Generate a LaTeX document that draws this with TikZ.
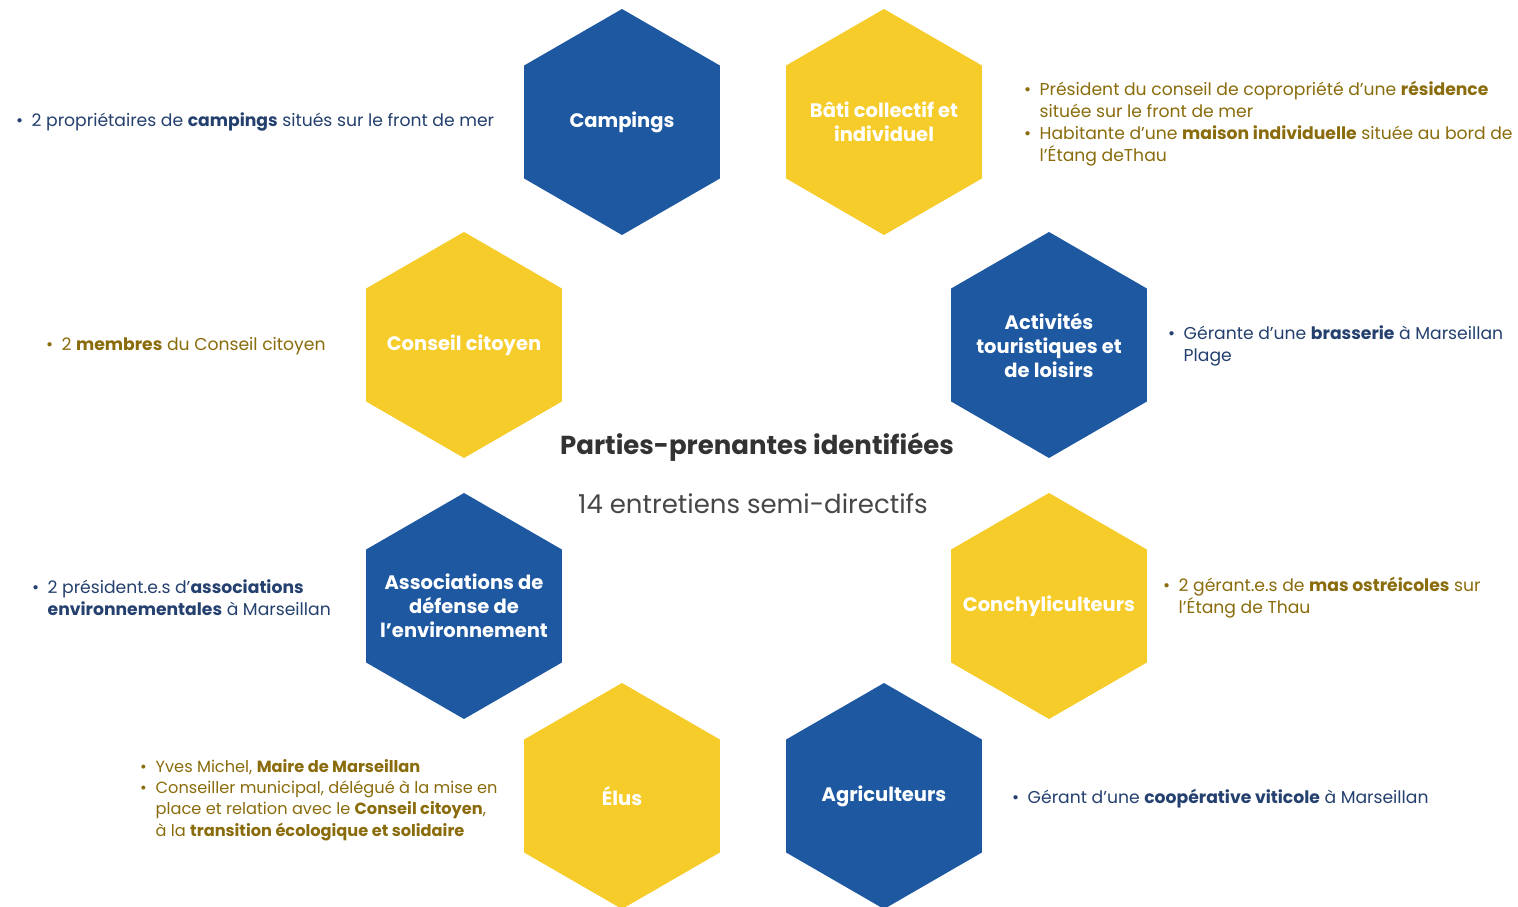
\documentclass[tikz,border=0pt]{standalone}
\usepackage{fontspec}
\setmainfont{Poppins}
\usetikzlibrary{shapes.geometric}
\definecolor{hexblue}{HTML}{1D58A1}
\definecolor{hexyellow}{HTML}{F6CC2B}
\definecolor{descblue}{HTML}{24406E}
\definecolor{descgold}{HTML}{8A6C0C}
\definecolor{titlegray}{HTML}{333333}
\newcommand{\bu}{\makebox[15.5pt][l]{\textbullet}}
\newcommand{\ind}{\hspace*{15.5pt}}
\begin{document}
\begin{tikzpicture}[x=1pt,y=-1pt,
  hex/.style={regular polygon, regular polygon sides=6, shape border rotate=30,
    minimum size=226pt, inner sep=0pt, draw=none},
  hexb/.style={hex, fill=hexblue},
  hexy/.style={hex, fill=hexyellow},
  hexlabel/.style={text=white, align=center, inner sep=0pt,
    font=\fontsize{19.5}{24}\selectfont\bfseries},
  desc/.style={anchor=west, inner sep=0pt, align=left, font=\fontsize{17.2}{22}\selectfont},
  descb/.style={desc, text=descblue},
  descy/.style={desc, text=descgold}]
\useasboundingbox (0,0) rectangle (1518,907);
\fill[white] (0,0) rectangle (1518,907);

\node[hexb] (camp) at (622,122) {};
\node[hexy] (bati) at (884,122) {};
\node[hexy] (cons) at (464,345) {};
\node[hexb] (acti) at (1049,345) {};
\node[hexb] (asso) at (464,606) {};
\node[hexy] (conc) at (1049,606) {};
\node[hexy] (elus) at (622,796) {};
\node[hexb] (agri) at (884,796) {};

\node[hexlabel] (lcamp) at (camp) {Campings};
\node[hexlabel] (lbati) at (bati) {Bâti collectif et\\individuel};
\node[hexlabel] (lcons) at (cons) {Conseil citoyen};
\node[hexlabel] (lacti) at (acti) {Activités\\touristiques et\\de loisirs};
\node[hexlabel] (lasso) at (asso) {Associations de\\défense de\\l'environnement};
\node[hexlabel] (lconc) at (conc) {Conchyliculteurs};
\node[hexlabel] (lelus) at (elus) {Élus};
\node[hexlabel] (lagri) at (agri) {Agriculteurs};

\node[text=titlegray, font=\fontsize{26}{30}\selectfont\bfseries] (title) at (757,447) {Parties-prenantes identifiées};
\node[text=titlegray!90, font=\fontsize{26}{30}\selectfont] (sub) at (753,504) {14 entretiens semi-directifs};

\node[descb] (dcamp) at (16,122) {\bu 2 propriétaires de \textbf{campings} situés sur le front de mer};
\node[descy] (dbati) at (1024,124) {\bu Président du conseil de copropriété d'une \textbf{résidence}\\\ind située sur le front de mer\\\bu Habitante d'une \textbf{maison individuelle} située au bord de\\\ind l'Étang deThau};
\node[descy] (dcons) at (46,346) {\bu 2 \textbf{membres} du Conseil citoyen};
\node[descb] (dacti) at (1168,346) {\bu Gérante d'une \textbf{brasserie} à Marseillan\\\ind Plage};
\node[descb] (dasso) at (32,598) {\bu 2 président.e.s d'\textbf{associations}\\\ind \textbf{environnementales} à Marseillan};
\node[descy] (dconc) at (1163,598) {\bu 2 gérant.e.s de \textbf{mas ostréicoles} sur\\\ind l'Étang de Thau};
\node[descy, font=\fontsize{16.2}{21.3}\selectfont] (delus) at (140,800) {\bu Yves Michel, \textbf{Maire de Marseillan}\\\bu Conseiller municipal, délégué à la mise en\\\ind place et relation avec le \textbf{Conseil citoyen},\\\ind à la \textbf{transition écologique et solidaire}};
\node[descb] (dagri) at (1012,799) {\bu Gérant d'une \textbf{coopérative viticole} à Marseillan};
\end{tikzpicture}
\end{document}
